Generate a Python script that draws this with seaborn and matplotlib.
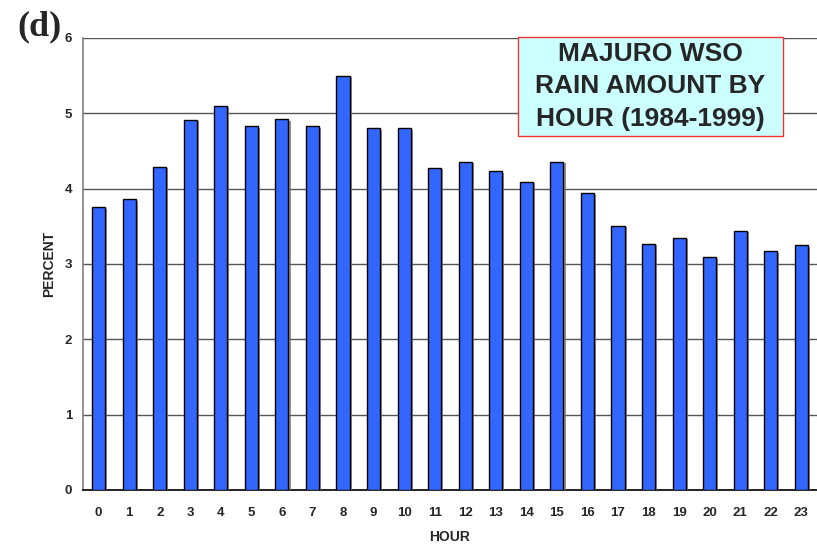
import matplotlib
matplotlib.use("Agg")
import matplotlib.pyplot as plt
import matplotlib.patheffects as pe
from matplotlib.patches import Rectangle
import seaborn as sns
import pandas as pd
import numpy as np

hours = [str(h) for h in range(24)]
percent = [3.75, 3.86, 4.29, 4.91, 5.10, 4.83, 4.92, 4.83, 5.50, 4.80, 4.80, 4.28,
           4.36, 4.23, 4.09, 4.36, 3.94, 3.51, 3.27, 3.35, 3.09, 3.44, 3.17, 3.25]
yticks = [0, 1, 2, 3, 4, 5, 6]
title_lines = ["MAJURO WSO", "RAIN AMOUNT BY", "HOUR (1984-1999)"]
panel_label = "(d)"

df = pd.DataFrame({"HOUR": hours, "PERCENT": percent})

sns.set_style("white")
plt.rcParams['font.family'] = ['Liberation Sans', 'DejaVu Sans']

fig = plt.figure(figsize=(8.17, 5.49), dpi=100)
ax = fig.add_axes([0.102, 0.1075, 0.8975, 0.8233])

sns.barplot(data=df, x="HOUR", y="PERCENT", order=hours, color="#3366FF",
            edgecolor="black", linewidth=1.0, width=0.43, saturation=1, ax=ax, zorder=3)
for p in ax.patches:
    p.set_path_effects([pe.SimplePatchShadow(offset=(1.5, -1.0), shadow_rgbFace="#777777", alpha=0.8), pe.Normal()])

ax.set_ylim(0, 6)
ax.set_xlim(-0.5, 23.5)
ax.set_yticks(yticks)
ax.set_yticklabels([str(t) for t in yticks], fontsize=9.5, fontweight="bold")
ax.yaxis.grid(True, color="#555555", linewidth=1.0, zorder=0)
ax.set_axisbelow(True)

ax.set_xticks(range(24))
ax.set_xticklabels(hours, fontsize=9.5, fontweight="bold")
ax.set_xticks(np.arange(-0.5, 24, 1), minor=True)
ax.tick_params(axis="x", which="major", length=0, pad=12)
ax.tick_params(axis="x", which="minor", length=5, width=1, color="black", direction="out")
ax.tick_params(axis="y", which="major", length=5, width=1, color="#555555", direction="out", pad=3)

ax.set_xlabel("HOUR", fontsize=10, fontweight="bold", labelpad=8)
ax.set_ylabel("PERCENT", fontsize=10, fontweight="bold", labelpad=6)

for s in ["top", "right"]:
    ax.spines[s].set_visible(False)
ax.spines["left"].set_color("#808080")
ax.spines["left"].set_linewidth(1.2)
ax.spines["bottom"].set_color("black")
ax.spines["bottom"].set_linewidth(1.2)

# title box
rect = Rectangle((0.634, 0.7523), 0.3244, 0.1803, transform=fig.transFigure,
                 facecolor="#CCFFFF", edgecolor="#EE3333", linewidth=1.0, zorder=5)
fig.add_artist(rect)
fig.text(0.796, 0.8426, "\n".join(title_lines), ha="center", va="center",
         fontsize=19, fontweight="bold", linespacing=1.45, zorder=6)

fig.text(0.021, 0.951, panel_label, fontsize=26, fontweight="bold",
         family=["Liberation Serif", "DejaVu Serif"], ha="left", va="center")

fig.savefig("out.png", dpi=100)
